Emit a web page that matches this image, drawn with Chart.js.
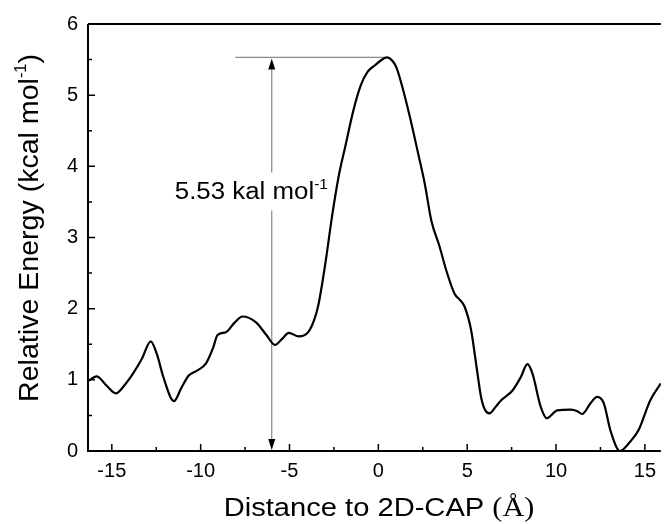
<!DOCTYPE html>
<html>
<head>
<meta charset="utf-8">
<script src="https://cdn.jsdelivr.net/npm/chart.js@4.4.0/dist/chart.umd.min.js"></script>
<style>
  html, body { margin: 0; padding: 0; background: #fff; }
  #wrap { width: 664px; height: 524px; }
</style>
</head>
<body>
<div id="wrap"><canvas id="energyChart" width="664" height="524"></canvas></div>
<script>
// Energy profile along the path towards 2D-CAP
const distance = [
  -16.34, -15.85, -15.3, -14.77, -14.3, -13.8, -13.3, -12.81, -12.45, -12.1,
  -11.5, -11.1, -10.67, -10.2, -9.7, -9.3, -9.05, -8.58, -8.1, -7.65,
  -6.9, -6.3, -5.82, -5.4, -5.04, -4.48, -3.95, -3.6, -3.36, -2.98,
  -2.61, -2.24, -1.86, -1.4, -1.0, -0.6, -0.19, 0.1, 0.47, 0.8,
  1.03, 1.4, 1.77, 2.24, 2.61, 2.98, 3.45, 3.82, 4.29, 4.6,
  4.85, 5.22, 5.5, 5.78, 6.0, 6.25, 6.6, 6.9, 7.55, 8.02,
  8.39, 8.67, 9.14, 9.48, 10.07, 10.82, 11.2, 11.47, 11.94, 12.31,
  12.69, 13.06, 13.6, 14.1, 14.64, 15.3, 15.9
];
const energy = [
  0.98, 1.05, 0.92, 0.81, 0.92, 1.09, 1.30, 1.54, 1.35, 1.04,
  0.70, 0.88, 1.06, 1.13, 1.23, 1.45, 1.63, 1.67, 1.80, 1.89,
  1.81, 1.63, 1.49, 1.58, 1.66, 1.61, 1.67, 1.85, 2.07, 2.64,
  3.29, 3.85, 4.28, 4.79, 5.13, 5.33, 5.42, 5.48, 5.53, 5.48,
  5.38, 5.07, 4.70, 4.18, 3.76, 3.24, 2.87, 2.54, 2.21, 2.12,
  2.03, 1.70, 1.23, 0.76, 0.58, 0.53, 0.62, 0.71, 0.85, 1.04,
  1.22, 1.09, 0.62, 0.46, 0.57, 0.58, 0.56, 0.52, 0.67, 0.76,
  0.67, 0.29, 0.00, 0.11, 0.29, 0.71, 0.95
];
const xTicks = [-15, -10, -5, 0, 5, 10, 15];
const yTicks = [0, 1, 2, 3, 4, 5, 6];

// barrier marker: arrow at x = -6 from 0 up to the peak height
const barrierX = -6;
const barrierHeight = 5.53;
const barrierLineStart = -8.05;
const barrierLineEnd = 0.4;
const barrierLabelX = -7.15;
const barrierLabelY = 3.66;

const SANS = '"Liberation Sans", Arial, sans-serif';
const SERIF = '"Liberation Serif", "Times New Roman", serif';

// draws text pieces side by side, centred on cx, baseline at y,
// optionally widened by sx
function drawRuns(ctx, runs, cx, y, sx) {
  sx = sx || 1;
  let total = 0;
  runs.forEach(r => {
    ctx.font = r.font;
    r.w = ctx.measureText(r.text).width;
    total += r.w;
  });
  ctx.save();
  ctx.translate(cx, y);
  ctx.scale(sx, 1);
  let x = -total / 2;
  ctx.textAlign = 'left';
  ctx.textBaseline = 'alphabetic';
  runs.forEach(r => {
    ctx.font = r.font;
    ctx.fillText(r.text, x, r.dy || 0);
    x += r.w;
  });
  ctx.restore();
  return total * sx;
}

function arrowHead(ctx, x, y, dir) {
  ctx.beginPath();
  ctx.moveTo(x, y);
  ctx.lineTo(x - 3.5, y - dir * 11);
  ctx.lineTo(x + 3.5, y - dir * 11);
  ctx.closePath();
  ctx.fill();
}

const framePlugin = {
  id: 'frame',
  beforeDatasetsDraw(chart) {
    const { ctx, scales: { x, y } } = chart;
    const ax = x.getPixelForValue(barrierX);
    const top = y.getPixelForValue(barrierHeight);
    const bottom = y.getPixelForValue(0);
    ctx.save();
    ctx.strokeStyle = '#8a8a8a';
    ctx.lineWidth = 1.2;
    ctx.beginPath();
    ctx.moveTo(x.getPixelForValue(barrierLineStart), top);
    ctx.lineTo(x.getPixelForValue(barrierLineEnd), top);
    ctx.moveTo(ax, top + 4);
    ctx.lineTo(ax, bottom - 4);
    ctx.stroke();
    ctx.fillStyle = '#000';
    arrowHead(ctx, ax, top + 1, -1);
    arrowHead(ctx, ax, bottom - 1, 1);

    // label sits on a white box over the arrow
    const lx = x.getPixelForValue(barrierLabelX);
    const ly = y.getPixelForValue(barrierLabelY) + 8;
    const runs = [
      { text: barrierHeight.toFixed(2) + ' kal mol', font: '23.5px ' + SANS },
      { text: '-1', font: '14px ' + SANS, dy: -10 }
    ];
    ctx.font = runs[0].font;
    let w = ctx.measureText(runs[0].text).width;
    ctx.font = runs[1].font;
    w = (w + ctx.measureText(runs[1].text).width) * 1.1;
    ctx.fillStyle = '#fff';
    ctx.fillRect(lx - w / 2 - 4, ly - 26, w + 8, 38);
    ctx.fillStyle = '#000';
    drawRuns(ctx, runs, lx, ly, 1.1);
    ctx.restore();
  },
  afterDraw(chart) {
    const { ctx, chartArea: a, scales: { x, y } } = chart;
    ctx.save();
    ctx.strokeStyle = '#000';
    ctx.lineWidth = 2;
    ctx.beginPath();
    ctx.moveTo(a.left, a.top);
    ctx.lineTo(a.right, a.top);
    ctx.moveTo(a.left, a.top);
    ctx.lineTo(a.left, a.bottom);
    ctx.lineTo(a.right, a.bottom);
    ctx.stroke();

    // inward tick marks, majors on labels and minors halfway between
    ctx.lineWidth = 1.5;
    ctx.beginPath();
    xTicks.forEach((v, i) => {
      const px = x.getPixelForValue(v);
      ctx.moveTo(px, a.bottom);
      ctx.lineTo(px, a.bottom - 7);
      if (i < xTicks.length - 1) {
        const mx = x.getPixelForValue((v + xTicks[i + 1]) / 2);
        ctx.moveTo(mx, a.bottom);
        ctx.lineTo(mx, a.bottom - 4);
      }
    });
    yTicks.forEach((v, i) => {
      const py = y.getPixelForValue(v);
      ctx.moveTo(a.left, py);
      ctx.lineTo(a.left + 7, py);
      if (i < yTicks.length - 1) {
        const my = y.getPixelForValue((v + yTicks[i + 1]) / 2);
        ctx.moveTo(a.left, my);
        ctx.lineTo(a.left + 4, my);
      }
    });
    ctx.stroke();

    // axis titles
    ctx.fillStyle = '#000';
    drawRuns(ctx, [
      { text: 'Distance to 2D-CAP ', font: '26px ' + SANS },
      { text: '(Å)', font: '27px ' + SERIF }
    ], 379, 516, 1.12);

    ctx.translate(38, 228);
    ctx.rotate(-Math.PI / 2);
    drawRuns(ctx, [
      { text: 'Relative Energy (kcal mol', font: '28px ' + SANS },
      { text: '-1', font: '16px ' + SANS, dy: -12 },
      { text: ')', font: '28px ' + SANS }
    ], 0, 0, 1.02);
    ctx.restore();
  }
};

new Chart(document.getElementById('energyChart'), {
  type: 'line',
  data: {
    datasets: [{
      data: distance.map((d, i) => ({ x: d, y: energy[i] })),
      borderColor: '#000',
      borderWidth: 2.2,
      pointRadius: 0,
      fill: false,
      cubicInterpolationMode: 'monotone'
    }]
  },
  options: {
    responsive: false,
    animation: false,
    events: [],
    layout: { padding: { top: 24, right: 0, left: 0, bottom: 0 } },
    plugins: { legend: { display: false }, tooltip: { enabled: false } },
    scales: {
      x: {
        type: 'linear',
        min: -16.34,
        max: 15.9,
        grid: { display: false, drawTicks: false },
        border: { display: false },
        ticks: { color: '#000', font: { family: SANS, size: 20 }, padding: 8, maxRotation: 0 },
        afterBuildTicks: s => { s.ticks = xTicks.map(v => ({ value: v })); },
        afterFit: s => { s.height = 73; }
      },
      y: {
        type: 'linear',
        min: 0,
        max: 6,
        grid: { display: false, drawTicks: false },
        border: { display: false },
        ticks: { color: '#000', font: { family: SANS, size: 20 }, padding: 10 },
        afterBuildTicks: s => { s.ticks = yTicks.map(v => ({ value: v })); },
        afterFit: s => { s.width = 88; }
      }
    }
  },
  plugins: [framePlugin]
});
</script>
</body>
</html>
